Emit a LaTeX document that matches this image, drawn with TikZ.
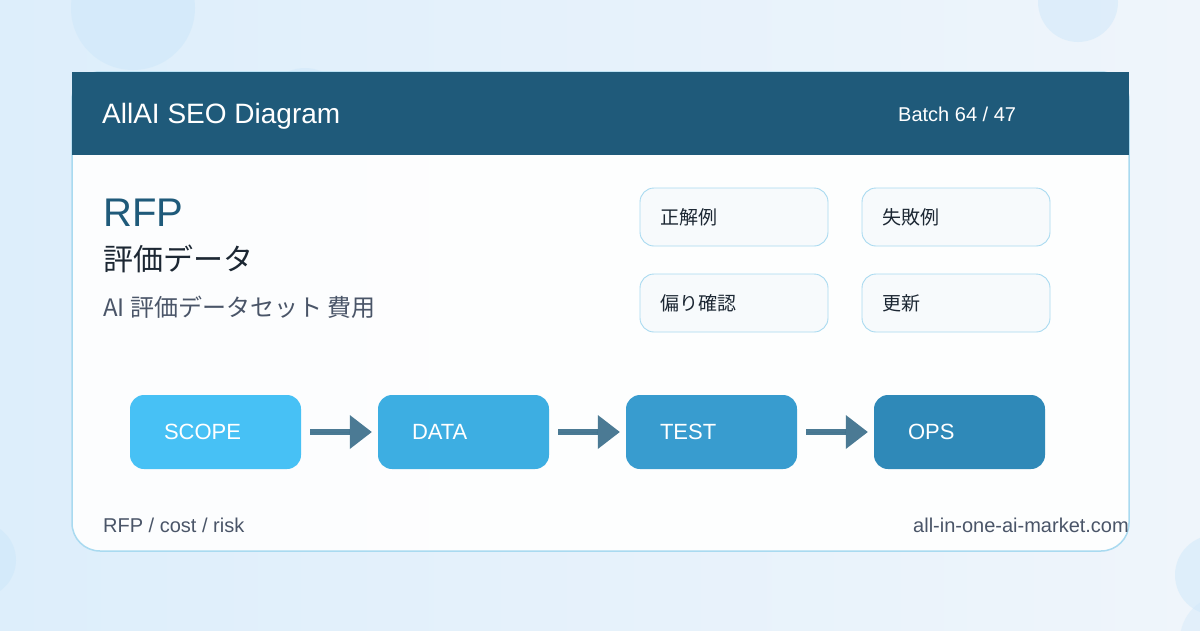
\documentclass[tikz,border=0pt]{standalone}
\usepackage{fontspec}
\setmainfont{Liberation Sans}
\newfontfamily\jp{Noto Sans CJK JP}
\usetikzlibrary{arrows.meta,positioning}
\definecolor{Header}{HTML}{1F5A7A}
\definecolor{Ink}{HTML}{1C2733}
\definecolor{Muted}{HTML}{4A5568}
\definecolor{Edge}{HTML}{A9DAF0}
\definecolor{BgL}{HTML}{DDEEFB}
\definecolor{BgR}{HTML}{EFF5FB}
\definecolor{Dot}{HTML}{CFE8FA}
\definecolor{Soft}{HTML}{F7FAFC}
\definecolor{StepA}{HTML}{47C1F5}
\definecolor{StepB}{HTML}{3DAEE2}
\definecolor{StepC}{HTML}{389CCF}
\definecolor{StepD}{HTML}{2F89B8}
\newcommand{\fs}[1]{\fontsize{#1}{#1}\selectfont}

\begin{document}
\begin{tikzpicture}[x=1pt,y=-1pt,>=Latex,
  txt/.style={anchor=west,inner sep=0pt},
  tile/.style={draw=Edge,fill=Soft,rounded corners=14pt,line width=0.9pt,minimum width=188pt,minimum height=58pt,text width=148pt,inner xsep=20pt,align=left,font=\jp\fs{19},text=Ink},
  stage/.style={rounded corners=14pt,minimum width=171pt,minimum height=74pt,text width=103pt,inner xsep=34pt,align=left,font=\fs{22},text=white},
  flow/.style={-{Triangle[length=22pt,width=34pt,line width=0pt]},line width=6pt,draw=Header,fill=Header,draw opacity=.8,fill opacity=.8,shorten <=9pt,shorten >=6pt}]
 \useasboundingbox (0,0) rectangle (1200,630);
 % background
 \shade[left color=BgL,right color=BgR] (0,0) rectangle (1200,630);
 \fill[Dot,opacity=.6] (133,8) circle (62);
 \fill[Dot,opacity=.5] (305,110) circle (42);
 \fill[Dot,opacity=.5] (1078,2) circle (40);
 \fill[Dot,opacity=.6] (-22,560) circle (38);
 \fill[Dot,opacity=.5] (1215,575) circle (40);
 \fill[Dot,opacity=.4] (1225,640) circle (45);
 % card
 \draw[Edge,fill=white,fill opacity=.93,line width=1.5pt,rounded corners=28pt] (72,72) rectangle (1129,551);
 \fill[Header] (72,72) rectangle (1129,155);
 \node[txt,text=white,font=\fs{28}] (title) at (102,116) {AllAI SEO Diagram};
 \node[txt,text=white,font=\fs{20}] (batch) at (898,114) {Batch 64 / 47};
 % heading
 \node[txt,text=Header,font=\fs{40}] (rfp) at (103,213) {RFP};
 \node[txt,text=Ink,font=\jp\fs{30}] (sub) at (103,259) {評価データ};
 \node[txt,text=Muted,font=\jp\fs{24}] (kw) at (103,307) {AI 評価データセット 費用};
 % tiles
 \node[tile] (ok) at (734,217) {正解例};
 \node[tile] (ng) at (956,217) {失敗例};
 \node[tile] (bias) at (734,303) {偏り確認};
 \node[tile] (upd) at (956,303) {更新};
 % stages
 \node[stage,fill=StepA] (scope) at (215.5,432) {SCOPE};
 \node[stage,fill=StepB] (data) at (463.5,432) {DATA};
 \node[stage,fill=StepC] (test) at (711.5,432) {TEST};
 \node[stage,fill=StepD] (ops) at (959.5,432) {OPS};
 \draw[flow] (scope) -- (data);
 \draw[flow] (data) -- (test);
 \draw[flow] (test) -- (ops);
 % footer
 \node[txt,text=Muted,font=\fs{20}] (tags) at (103,525) {RFP / cost / risk};
 \node[anchor=east,inner sep=0pt,text=Muted,font=\fs{20}] (site) at (1129,525) {all-in-one-ai-market.com};
\end{tikzpicture}
\end{document}
